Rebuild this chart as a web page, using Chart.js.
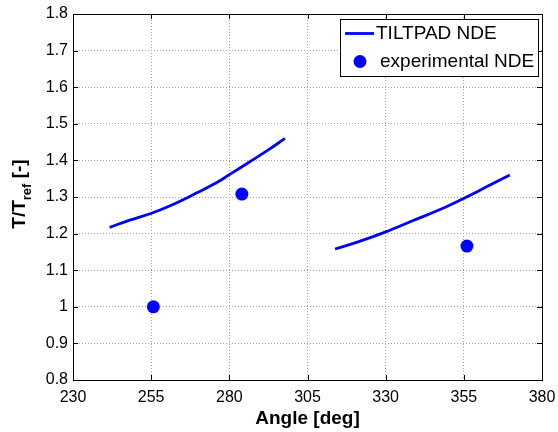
<!DOCTYPE html>
<html>
<head>
<meta charset="utf-8">
<script src="https://cdn.jsdelivr.net/npm/chart.js@4.4.1/dist/chart.umd.min.js"></script>
<style>
  html, body { margin: 0; padding: 0; background: #fff; }
  #wrap { width: 558px; height: 432px; }
</style>
</head>
<body>
<div id="wrap"><canvas id="myChart"></canvas></div>
<script>
// TILTPAD model, two pad segments
const modelAngles1 = [241.7, 247.9, 254.9, 261.8, 269.3, 275.7, 280, 286.3, 292.7, 297.8];
const modelValues1 = [1.217, 1.236, 1.255, 1.279, 1.310, 1.338, 1.361, 1.395, 1.430, 1.460];
const modelAngles2 = [313.8, 321.4, 329.8, 338.6, 347.2, 354.9, 362.1, 369.7];
const modelValues2 = [1.158, 1.178, 1.204, 1.235, 1.265, 1.296, 1.327, 1.360];
// measured points
const expAngles = [255.7, 284.0, 356.0];
const expValues = [1.0, 1.308, 1.166];

const xTicks = [230, 255, 280, 305, 330, 355, 380];
const yTicks = [0.8, 0.9, 1.0, 1.1, 1.2, 1.3, 1.4, 1.5, 1.6, 1.7, 1.8];

const seriesLabels = ['TILTPAD NDE', 'experimental NDE'];

const FONT = '"Liberation Sans", Arial, Helvetica, sans-serif';

//build model line with a gap between the pads
let modelData = [];
for (let i = 0; i < modelAngles1.length; i++) {
    modelData.push({x: modelAngles1[i], y: modelValues1[i]});
}
modelData.push({x: 305, y: null});
for (let i = 0; i < modelAngles2.length; i++) {
    modelData.push({x: modelAngles2[i], y: modelValues2[i]});
}
let expData = [];
for (let i = 0; i < expAngles.length; i++) {
    expData.push({x: expAngles[i], y: expValues[i]});
}

// box round the plot, inner tick marks, y title with subscript, legend
const matlabAxes = {
    id: 'matlabAxes',
    afterDraw(chart) {
        const ctx = chart.ctx;
        const a = chart.chartArea;
        const xs = chart.scales.x, ys = chart.scales.y;
        ctx.save();
        ctx.strokeStyle = '#000';
        ctx.lineWidth = 1;
        ctx.beginPath();
        xTicks.forEach(v => {
            const px = Math.round(xs.getPixelForValue(v)) + 0.5;
            ctx.moveTo(px, a.bottom); ctx.lineTo(px, a.bottom - 5);
            ctx.moveTo(px, a.top); ctx.lineTo(px, a.top + 5);
        });
        yTicks.forEach(v => {
            const py = Math.round(ys.getPixelForValue(v)) + 0.5;
            ctx.moveTo(a.left, py); ctx.lineTo(a.left + 5, py);
            ctx.moveTo(a.right, py); ctx.lineTo(a.right - 5, py);
        });
        ctx.stroke();
        ctx.strokeRect(Math.round(a.left) + 0.5, Math.round(a.top) + 0.5,
            Math.round(a.right - a.left), Math.round(a.bottom - a.top));

        // y axis title: T/T_ref [-]
        ctx.translate(25, 194);
        ctx.rotate(-Math.PI / 2);
        ctx.fillStyle = '#000';
        ctx.textBaseline = 'alphabetic';
        const big = 'bold 19px ' + FONT, small = 'bold 13px ' + FONT;
        ctx.font = big;
        const w1 = ctx.measureText('T/T').width;
        const w3 = ctx.measureText(' [-]').width;
        ctx.font = small;
        const w2 = ctx.measureText('ref').width;
        let x0 = -(w1 + w2 + w3) / 2;
        ctx.font = big;
        ctx.fillText('T/T', x0, 0);
        ctx.font = small;
        ctx.fillText('ref', x0 + w1, 6);
        ctx.font = big;
        ctx.fillText(' [-]', x0 + w1 + w2, 0);
        ctx.restore();

        // legend
        const ds = chart.data.datasets;
        ctx.save();
        ctx.fillStyle = '#fff';
        ctx.fillRect(340, 19, 198, 57);
        ctx.strokeStyle = '#000';
        ctx.lineWidth = 1;
        ctx.strokeRect(340.5, 19.5, 198, 57);
        ctx.strokeStyle = ds[0].borderColor;
        ctx.lineWidth = 2.8;
        ctx.beginPath();
        ctx.moveTo(345, 33.5); ctx.lineTo(374, 33.5);
        ctx.stroke();
        ctx.fillStyle = ds[1].backgroundColor;
        ctx.beginPath();
        ctx.arc(360, 61.5, 6.5, 0, Math.PI * 2);
        ctx.fill();
        ctx.fillStyle = '#000';
        ctx.font = '19px ' + FONT;
        ctx.textBaseline = 'middle';
        ctx.fillText(ds[0].label, 376, 34);
        ctx.fillText(ds[1].label, 380, 62);
        ctx.restore();
    }
};

const config = {
    type: 'scatter',
    data: {
        datasets: [{
            type: 'line',
            label: seriesLabels[0],
            data: modelData,
            borderColor: '#0000ff',
            backgroundColor: '#0000ff',
            borderWidth: 2.8,
            pointRadius: 0,
            spanGaps: false,
            tension: 0.4
        }, {
            label: seriesLabels[1],
            data: expData,
            borderColor: '#0000ff',
            backgroundColor: '#0000ff',
            pointRadius: 6.5,
            pointBorderWidth: 0
        }]
    },
    options: {
        animation: false,
        responsive: true,
        maintainAspectRatio: false,
        layout: { padding: { top: 14, right: 16, left: 0, bottom: 0 } },
        plugins: {
            legend: { display: false },
            tooltip: { enabled: false }
        },
        scales: {
            x: {
                type: 'linear',
                min: 230, max: 380,
                afterBuildTicks: (s) => { s.ticks = xTicks.map(v => ({value: v})); },
                afterFit: (s) => { s.height = 52; s.paddingLeft = 0; s.paddingRight = 0; },
                grid: { color: '#a0a0a0', drawTicks: false },
                border: { display: false, dash: [1, 2] },
                ticks: { color: '#000', font: { family: FONT, size: 16 }, padding: 8, maxRotation: 0 },
                title: { display: true, text: 'Angle [deg]', color: '#000',
                    font: { family: FONT, size: 19, weight: 'bold' }, padding: { top: 0, bottom: 2 } }
            },
            y: {
                min: 0.8, max: 1.8,
                afterBuildTicks: (s) => { s.ticks = yTicks.map(v => ({value: v})); },
                afterFit: (s) => { s.width = 73; s.paddingTop = 0; s.paddingBottom = 0; },
                grid: { color: '#a0a0a0', drawTicks: false },
                border: { display: false, dash: [1, 2] },
                ticks: { color: '#000', font: { family: FONT, size: 16 }, padding: 5,
                    callback: (v) => String(Number(v.toFixed(1))) }
            }
        }
    },
    plugins: [matlabAxes]
};

var myChart = new Chart(document.getElementById('myChart'), config);
</script>
</body>
</html>
